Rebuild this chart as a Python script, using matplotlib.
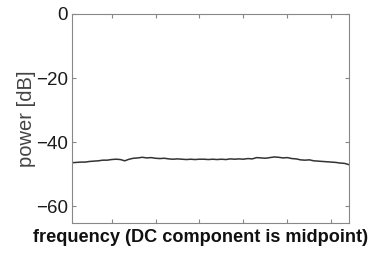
import numpy as np
import matplotlib
matplotlib.use("Agg")
import matplotlib.pyplot as plt

plt.rcParams['font.family'] = ['Liberation Sans', 'DejaVu Sans']

# power spectrum (dB), DC component at the midpoint
power_db = [
    -46.4, -46.3, -46.2, -46.2, -46.0, -45.9, -45.8, -45.6, -45.6, -45.4,
    -45.3, -45.4, -45.8, -45.3, -45.0, -44.9, -44.7, -44.9, -44.8, -45.0,
    -45.1, -45.0, -45.2, -45.3, -45.2, -45.3, -45.4, -45.3, -45.4, -45.3,
    -45.3, -45.4, -45.3, -45.4, -45.3, -45.4, -45.2, -45.3, -45.2, -45.3,
    -45.1, -45.2, -44.8, -44.9, -45.0, -44.8, -44.6, -44.7, -44.9, -44.8,
    -45.1, -45.2, -45.5, -45.6, -45.5, -45.8, -45.9, -46.0, -46.1, -46.2,
    -46.3, -46.5, -46.6, -47.0,
]
freq_idx = np.arange(1, len(power_db) + 1)
xticks = [10, 20, 30, 40, 50, 60]
yticks = [0, -20, -40, -60]

fig = plt.figure(figsize=(3.74, 2.54), dpi=100)
ax = fig.add_axes([0.1925, 0.122, 0.7405, 0.823])

ax.plot(freq_idx, power_db, color='#333333', linewidth=1.1)

ax.set_xlim(1, len(power_db))
ax.set_ylim(-65.2, 0)
ax.set_xticks(xticks)
ax.set_xticklabels([])
ax.set_yticks(yticks)
ax.set_yticklabels(['0', '\u221220', '\u221240', '\u221260'])

for s in ax.spines.values():
    s.set_color('#888888')
    s.set_linewidth(0.8)
ax.tick_params(direction='in', length=3, width=0.8, color='#888888',
               top=True, right=True, labelsize=13.5, labelcolor='#1a1a1a', pad=3)

ax.set_ylabel('power [dB]', fontsize=14.5, color='#444444', labelpad=0)
# x label sits a bit left of the axes centre in the reference
fig.text(201 / 374, 1 - 238 / 254, 'frequency (DC component is midpoint)',
         fontsize=13.1, fontweight='bold', color='#111111',
         ha='center', va='center')

fig.savefig('out.png', dpi=100)
